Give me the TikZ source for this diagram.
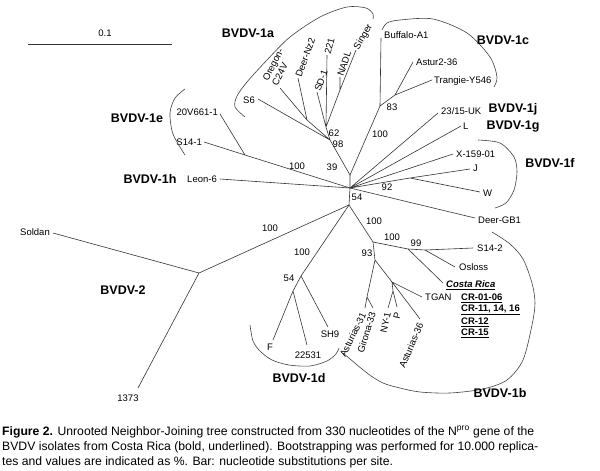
\documentclass[tikz,border=0pt]{standalone}
\usepackage{fontspec}
\setmainfont{Liberation Sans}
\begin{document}
\begin{tikzpicture}[x=1pt,y=-1pt,
  br/.style={draw=black!80,line width=0.6pt},
  arcln/.style={draw=black!75,line width=0.6pt},
  lab/.style={font=\fontsize{9.5}{10.5}\selectfont,inner sep=1pt},
  bs/.style={font=\fontsize{9.5}{10.5}\selectfont,inner sep=0pt},
  clade/.style={font=\bfseries\fontsize{12.5}{14}\selectfont,inner sep=0pt},
  crl/.style={font=\bfseries\fontsize{9.5}{10.5}\selectfont,inner sep=0pt,anchor=west},
  captxt/.style={font=\fontsize{12.2}{14}\selectfont,inner sep=0pt,anchor=west}]
\useasboundingbox (0,0) rectangle (600,471);
% ---------- internal nodes ----------
\coordinate (C) at (350,188);
\coordinate (NAC) at (350,175);
\coordinate (C2) at (349,205);
\coordinate (N2) at (199,273);
\coordinate (N1d) at (301,276);
\coordinate (N1ds) at (293,291);
\coordinate (N1b) at (373,242);
\coordinate (NCR) at (408,249);
\coordinate (N99) at (425,250);
\coordinate (N93) at (375,260);
\coordinate (NAG) at (367,297);
\coordinate (NT) at (392,282);
\coordinate (NNP) at (393,291);
\coordinate (N98) at (330,140);
\coordinate (N62) at (326,127);
\coordinate (NSN) at (340,90);
\coordinate (NOD) at (307,120);
\coordinate (N1c) at (380,106);
\coordinate (N1cs) at (395,95);
\coordinate (NJW) at (410,178);
\coordinate (N1e) at (245,155);
% ---------- tips ----------
\coordinate (tSoldan) at (53,233);
\coordinate (t1373) at (138,388);
\coordinate (tF) at (273,340);
\coordinate (t22531) at (307,345);
\coordinate (tSH9) at (328,327);
\coordinate (tS142) at (473,248);
\coordinate (tOsloss) at (455,267);
\coordinate (tCR) at (443,283);
\coordinate (tA31) at (365,308);
\coordinate (tG33) at (373,308);
\coordinate (tTGAN) at (422,297);
\coordinate (tNY1) at (388,308);
\coordinate (tP) at (397,307);
\coordinate (tA36) at (420,319);
\coordinate (tS6) at (258,99);
\coordinate (tOre) at (280,88);
\coordinate (tDNz) at (298,78);
\coordinate (tSD1) at (317,92);
\coordinate (t221) at (327,55);
\coordinate (tNADL) at (340,77);
\coordinate (tSinger) at (356,50);
\coordinate (tBuf) at (381,38);
\coordinate (tAst2) at (413,62);
\coordinate (tTra) at (432,80);
\coordinate (tUK) at (438,113);
\coordinate (tL) at (461,126);
\coordinate (tX) at (453,154);
\coordinate (tJ) at (470,169);
\coordinate (tW) at (480,192);
\coordinate (tDGB) at (475,218);
\coordinate (tLeon) at (220,179);
\coordinate (tV20) at (220,114);
\coordinate (tS141) at (204,142);
% ---------- branches ----------
\draw[br] (NAC) -- (C) (C) -- (C2);
\draw[br] (C2) -- (N2) (N2) -- (tSoldan) (N2) -- (t1373);
\draw[br] (C2) -- (N1d) (N1d) -- (N1ds) (N1ds) -- (tF) (N1ds) -- (t22531) (N1d) -- (tSH9);
\draw[br] (C2) -- (N1b) (N1b) -- (NCR) (NCR) -- (N99) (N99) -- (tS142) (N99) -- (tOsloss) (NCR) -- (tCR);
\draw[br] (N1b) -- (N93) (N93) -- (NAG) (NAG) -- (tA31) (NAG) -- (tG33) (N93) -- (NT)
  (NT) -- (tTGAN) (NT) -- (NNP) (NNP) -- (tNY1) (NNP) -- (tP) (NT) -- (tA36);
\draw[br] (NAC) -- (N98) (N98) -- (N62) (N62) -- (t221) (N62) -- (tSD1) (N62) -- (NSN) (NSN) -- (tSinger) (NSN) -- (tNADL)
  (N98) -- (NOD) (NOD) -- (tOre) (NOD) -- (tDNz) (N98) -- (tS6);
\draw[br] (NAC) -- (N1c) (N1c) -- (tBuf) (N1c) -- (N1cs) (N1cs) -- (tAst2) (N1cs) -- (tTra);
\draw[br] (C) -- (tUK) (C) -- (tL);
\draw[br] (C) -- (tX) (C) -- (NJW) (NJW) -- (tJ) (NJW) -- (tW);
\draw[br] (C) -- (tDGB) (C) -- (tLeon);
\draw[br] (C) -- (N1e) (N1e) -- (tV20) (N1e) -- (tS141);
% ---------- tip labels ----------
\node[lab,anchor=east] (lSoldan) at (51,232) {Soldan};
\node[lab] (l1373) at (128,398) {1373};
\node[lab] (lF) at (270,347) {F};
\node[lab] (l22531) at (308,355) {22531};
\node[lab] (lSH9) at (330,334) {SH9};
\node[lab,anchor=west] (lS142) at (476,248) {S14-2};
\node[lab,anchor=west] (lOsloss) at (458,267) {Osloss};
\node[font=\bfseries\itshape\fontsize{9.5}{10.5}\selectfont,inner sep=1pt,anchor=west] (lCR) at (445,285) {\underline{Costa Rica}};
\node[lab,anchor=west] (lTGAN) at (424,297) {TGAN};
\node[crl] (cr1) at (461,298) {\underline{CR-01-06}};
\node[crl] (cr2) at (461,310) {\underline{CR-11, 14, 16}};
\node[crl] (cr3) at (461,322) {\underline{CR-12}};
\node[crl] (cr4) at (461,333) {\underline{CR-15}};
\node[lab,anchor=east,rotate=64] (lA31) at ([shift={(-1,4)}]tA31) {Asturias-31};
\node[lab,anchor=east,rotate=73] (lG33) at ([shift={(0,3)}]tG33) {Girona-33};
\node[lab,anchor=east,rotate=78] (lNY1) at ([shift={(0,3)}]tNY1) {NY-1};
\node[lab,anchor=east,rotate=78] (lP) at ([shift={(1,4)}]tP) {P};
\node[lab,anchor=east,rotate=67] (lA36) at ([shift={(1,3)}]tA36) {Asturias-36};
\node[lab,anchor=east] (lS6) at (256,100) {S6};
\node[lab,anchor=south west,rotate=63,align=left] (lOre) at ([xshift=-2pt]tOre) {Oregon-\\C24V};
\node[lab,anchor=west,rotate=70] (lDNz) at (tDNz) {Deer-Nz2};
\node[lab,anchor=west,rotate=70] (lSD1) at (tSD1) {SD-1};
\node[lab,anchor=west,rotate=75] (l221) at (t221) {221};
\node[lab,anchor=west,rotate=72] (lNADL) at (tNADL) {NADL};
\node[lab,anchor=west,rotate=60] (lSinger) at (tSinger) {Singer};
\node[lab,anchor=west] (lBuf) at (383,35) {Buffalo-A1};
\node[lab,anchor=west] (lAst2) at (415,62) {Astur2-36};
\node[lab,anchor=west] (lTra) at (433,81) {Trangie-Y546};
\node[lab,anchor=west] (lUK) at (440,111) {23/15-UK};
\node[lab,anchor=west] (lL) at (462,126) {L};
\node[lab,anchor=west] (lX) at (455,154) {X-159-01};
\node[lab,anchor=west] (lJ) at (472,168) {J};
\node[lab,anchor=west] (lW) at (482,193) {W};
\node[lab,anchor=west] (lDGB) at (477,220) {Deer-GB1};
\node[lab,anchor=east] (lLeon) at (218,179) {Leon-6};
\node[lab,anchor=east] (lV20) at (219,112) {20V661-1};
\node[lab,anchor=east] (lS141) at (203,142) {S14-1};
% ---------- bootstrap values ----------
\node[bs] (b1) at (270,228) {100};
\node[bs] (b2) at (302,252) {100};
\node[bs] (b3) at (289,278) {54};
\node[bs] (b4) at (357,197) {54};
\node[bs] (b5) at (374,221) {100};
\node[bs] (b6) at (392,237) {100};
\node[bs] (b7) at (416,243) {99};
\node[bs] (b8) at (367,253) {93};
\node[bs] (b9) at (332,167) {39};
\node[bs] (b10) at (338,144) {98};
\node[bs] (b11) at (334,133) {62};
\node[bs] (b12) at (380,134) {100};
\node[bs] (b13) at (392,107) {83};
\node[bs] (b14) at (387,187) {92};
\node[bs] (b15) at (297,166) {100};
% ---------- clade arcs ----------
\draw[arcln] plot[smooth] coordinates {(245,117) (235,107) (237,96) (247,82) (267,60) (290,37) (320,17) (347,7) (366,8) (373,14) (373,19)};
\draw[arcln] plot[smooth] coordinates {(382,30) (387,23) (400,20) (433,19) (467,33) (490,57) (497,77) (494,87)};
\draw[arcln] plot[smooth] coordinates {(185,155) (173,134) (170,113) (175,98) (185,89)};
\draw[arcln] plot[smooth] coordinates {(478,140) (500,143) (514,157) (517,172) (514,190) (506,203) (495,208)};
\draw[arcln] plot[smooth] coordinates {(492,232) (510,244) (523,259) (532,283) (535,303) (532,325) (523,360) (507,380) (483,389) (450,393) (420,392) (400,388) (383,383) (367,373) (343,353)};
\draw[arcln] plot[smooth] coordinates {(250,325) (253,341) (260,351) (272,360) (289,365) (310,366) (327,361) (336,354) (339,348)};
% ---------- clade names ----------
\node[clade] (c1a) at (248,33) {BVDV-1a};
\node[clade] (c1c) at (503,40) {BVDV-1c};
\node[clade] (c1e) at (137,118) {BVDV-1e};
\node[clade] (c1j) at (513,109) {BVDV-1j};
\node[clade] (c1g) at (513,127) {BVDV-1g};
\node[clade] (c1f) at (550,163) {BVDV-1f};
\node[clade] (c1h) at (150,179) {BVDV-1h};
\node[clade] (c2) at (123,290) {BVDV-2};
\node[clade] (c1d) at (299,378) {BVDV-1d};
\node[clade] (c1b) at (500,393) {BVDV-1b};
% ---------- scale bar ----------
\coordinate (sb1) at (28,44);
\coordinate (sb2) at (172,44);
\draw[br] (sb1) -- (sb2);
\node[lab] (sbl) at (105,33) {0.1};
% ---------- caption ----------
\node[captxt] (cap1) at (2,432) {\textbf{Figure 2.} Unrooted Neighbor-Joining tree constructed from 330 nucleotides of the N\textsuperscript{pro} gene of the};
\node[captxt] (cap2) at (2,447) {BVDV isolates from Costa Rica (bold, underlined). Bootstrapping was performed for 10.000 replica-};
\node[captxt] (cap3) at (2,462) {tes and values are indicated as \%. Bar: nucleotide substitutions per site.};
\end{tikzpicture}
\end{document}
